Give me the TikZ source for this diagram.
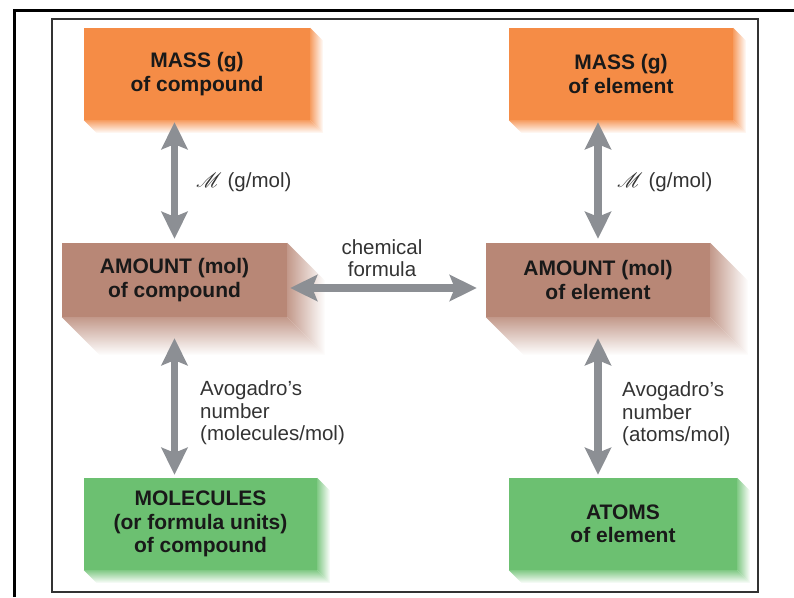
\documentclass[tikz,border=0pt]{standalone}
\usepackage{fontspec}
\setmainfont{Liberation Sans}
\usepackage{mathrsfs}
\usetikzlibrary{arrows.meta,calc}
\definecolor{massorange}{RGB}{245,140,70}
\definecolor{amountbrown}{RGB}{184,135,118}
\definecolor{countgreen}{RGB}{108,192,113}
\definecolor{linkgray}{RGB}{140,143,148}
\tikzset{box/.style={inner sep=0pt,align=center,text=black!90,
           font=\bfseries\fontsize{21}{23.5}\selectfont},
         massbox/.style={box,fill=massorange,minimum height=92pt},
         amountbox/.style={box,fill=amountbrown,minimum height=74pt},
         countbox/.style={box,fill=countgreen,minimum height=92pt},
         note/.style={inner sep=0pt,text=black!80,font=\fontsize{20.5}{22.5}\selectfont},
         link/.style={draw=linkgray,line width=7.5pt,
           {Stealth[length=27pt,width=26pt,inset=5pt]}-{Stealth[length=27pt,width=26pt,inset=5pt]}}}
% shaded right and bottom faces of a box
\newcommand{\boxbevel}[3]{%
  \shade[left color=#3!85!white,right color=white]
    (#1.north east) -- ($(#1.north east)+(#2,#2)$) -- ($(#1.south east)+(#2,#2)$) -- (#1.south east) -- cycle;
  \shade[top color=#3!85!white,bottom color=white]
    (#1.south west) -- (#1.south east) -- ($(#1.south east)+(#2,#2)$) -- ($(#1.south west)+(#2,#2)$) -- cycle;}

\begin{document}
\begin{tikzpicture}[x=1pt,y=-1pt]
  \useasboundingbox (0,0) rectangle (794,597);
  % frames
  \draw[line width=3pt] (14,597) -- (14,10) -- (794,10);
  \draw[black!80,line width=1.2pt] (52,19) rectangle (758,592);
  % compound column
  \node[massbox,minimum width=226pt] (masscpd) at (197,74) {MASS (g)\\of compound};
  \node[amountbox,minimum width=225pt] (amtcpd) at (174.5,280) {AMOUNT (mol)\\of compound};
  \node[countbox,minimum width=233pt] (molcpd) at (200.5,524) {MOLECULES\\(or formula units)\\of compound};
  % element column
  \node[massbox,minimum width=224pt] (massel) at (621,74) {MASS (g)\\of element};
  \node[amountbox,minimum width=224pt] (amtel) at (598,280) {AMOUNT (mol)\\of element};
  \node[countbox,minimum width=228pt] (atomel) at (623,524) {ATOMS\\of element};
  \boxbevel{masscpd}{13}{massorange}
  \boxbevel{massel}{13}{massorange}
  \boxbevel{amtcpd}{38}{amountbrown}
  \boxbevel{amtel}{38}{amountbrown}
  \boxbevel{molcpd}{13}{countgreen}
  \boxbevel{atomel}{13}{countgreen}
  % conversions
  \draw[link,shorten <=2pt,shorten >=4pt] (amtcpd.north |- masscpd.south) -- (amtcpd.north);
  \draw[link,shorten <=21pt,shorten >=3pt] (amtcpd.south) -- (amtcpd.south |- molcpd.north);
  \draw[link,shorten <=2pt,shorten >=4pt] (amtel.north |- massel.south) -- (amtel.north);
  \draw[link,shorten <=21pt,shorten >=3pt] (amtel.south) -- (amtel.south |- atomel.north);
  \draw[link,shorten <=3pt,shorten >=9pt] ([yshift=-8pt]amtcpd.east) -- ([yshift=-8pt]amtel.west);
  \node[note,anchor=west] (mmcpd) at (196,182) {$\mathscr{M}$ (g/mol)};
  \node[note,anchor=west] (mmel) at (617,182) {$\mathscr{M}$ (g/mol)};
  \node[note,align=center] (chemf) at (382,258) {chemical\\formula};
  \node[note,anchor=west,align=left] (avocpd) at (200,413) {Avogadro's\\number\\(molecules/mol)};
  \node[note,anchor=west,align=left] (avoel) at (622,414) {Avogadro's\\number\\(atoms/mol)};
\end{tikzpicture}
\end{document}
